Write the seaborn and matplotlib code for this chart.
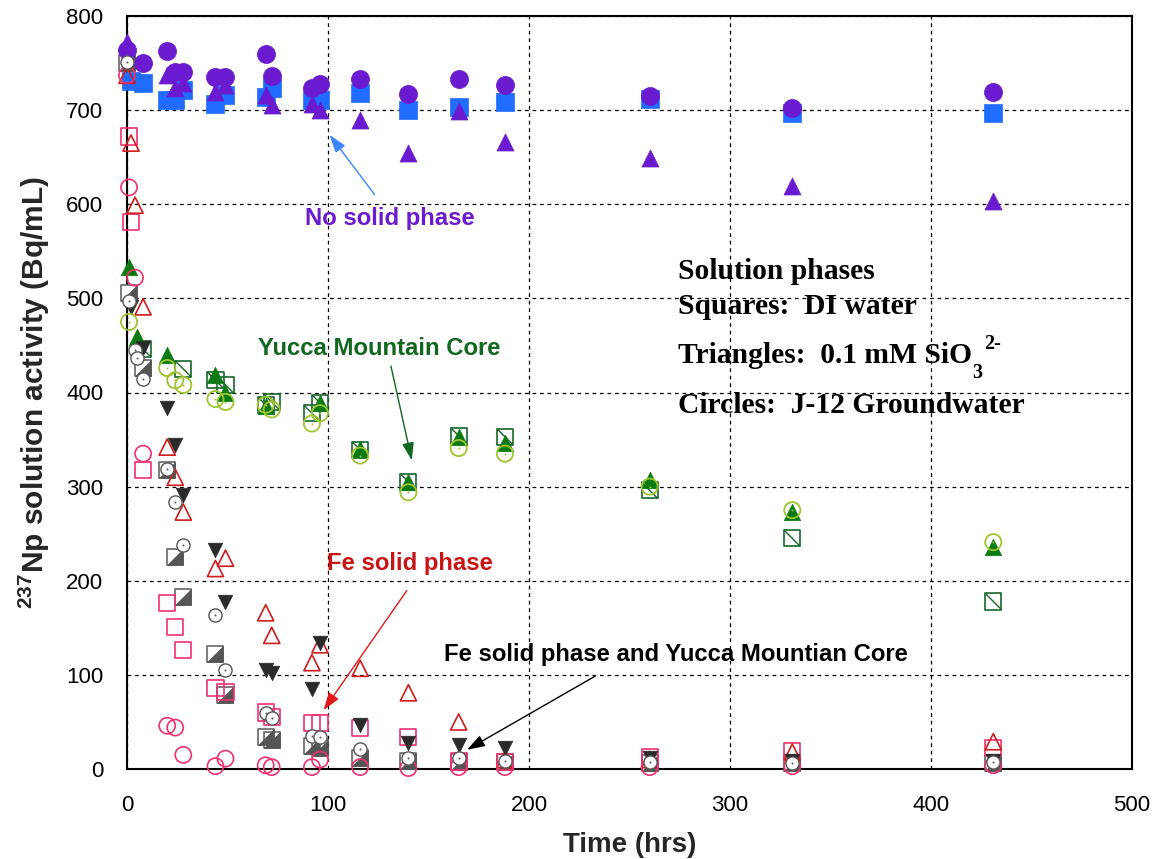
import numpy as np
import matplotlib
matplotlib.use("Agg")
import matplotlib.pyplot as plt
from matplotlib.path import Path
import matplotlib.transforms as mtransforms
import seaborn as sns

# ---------------- data ----------------
# No solid phase
ns_sq_t = [2, 8, 20, 24, 28, 44, 49, 69, 72, 92, 96, 116, 140, 165, 188, 260, 331, 431]
ns_sq_y = [731, 729, 711, 711, 721, 707, 716, 714, 723, 711, 711, 718, 700, 703, 709, 712, 697, 697]
ns_tri_t = [0, 20, 24, 28, 44, 49, 69, 72, 92, 96, 116, 140, 165, 188, 260, 331, 431]
ns_tri_y = [772, 737, 723, 729, 719, 727, 716, 705, 707, 700, 689, 654, 699, 666, 649, 619, 603]
ns_cir_t = [0, 8, 20, 24, 28, 44, 49, 69, 72, 92, 96, 116, 140, 165, 188, 260, 331, 431]
ns_cir_y = [764, 750, 763, 741, 741, 735, 735, 760, 736, 723, 728, 733, 717, 733, 727, 715, 702, 719]

# Yucca Mountain Core
ym_sq_t = [8, 28, 44, 49, 69, 72, 92, 96, 116, 140, 165, 188, 260, 331, 431]
ym_sq_y = [446, 425, 413, 408, 387, 390, 378, 389, 339, 305, 354, 353, 296, 245, 178]
ym_tri_t = [1, 5, 20, 44, 49, 69, 96, 116, 140, 165, 188, 260, 331, 431]
ym_tri_y = [533, 459, 440, 419, 399, 386, 389, 340, 305, 353, 346, 307, 273, 236]
ym_cir_t = [1, 20, 24, 28, 44, 49, 69, 72, 92, 96, 116, 140, 165, 188, 260, 331, 431]
ym_cir_y = [475, 426, 413, 408, 393, 390, 387, 382, 367, 378, 333, 294, 341, 335, 300, 275, 241]

# Fe solid phase
fe_sq_t = [1, 2, 8, 20, 24, 28, 44, 49, 69, 72, 92, 96, 116, 140, 165, 188, 260, 331, 431]
fe_sq_y = [672, 581, 318, 176, 151, 126, 86, 82, 60, 55, 49, 49, 44, 34, 8, 7, 13, 19, 22]
fe_tri_t = [0, 2, 4, 8, 20, 24, 28, 44, 49, 69, 72, 92, 96, 116, 140, 165, 188, 260, 331, 431]
fe_tri_y = [737, 665, 599, 491, 342, 310, 273, 213, 224, 166, 142, 113, 132, 107, 81, 50, 10, 10, 18, 29]
fe_cir_t = [0, 1, 4, 8, 20, 24, 28, 44, 49, 69, 72, 92, 96, 116, 140, 165, 188, 260, 331, 431]
fe_cir_y = [737, 618, 522, 335, 46, 44, 15, 3, 11, 4, 2, 2, 10, 2, 1, 2, 2, 2, 3, 4]

# Fe solid phase and Yucca Mountain Core
fy_sq_t = [0, 1, 8, 20, 24, 28, 44, 49, 69, 72, 92, 96, 116, 140, 165, 188, 260, 331, 431]
fy_sq_y = [750, 506, 426, 318, 225, 183, 122, 79, 34, 31, 24, 22, 12, 8, 7, 7, 6, 6, 6]
fy_tri_t = [2, 8, 20, 24, 28, 44, 49, 69, 72, 92, 96, 116, 140, 165, 188, 260, 331, 431]
fy_tri_y = [491, 447, 384, 344, 291, 233, 177, 105, 102, 85, 134, 47, 28, 26, 22, 12, 8, 8]
fy_cir_t = [0, 1, 4, 5, 8, 20, 24, 28, 44, 49, 69, 72, 92, 96, 116, 140, 165, 188, 260, 331, 431]
fy_cir_y = [751, 497, 445, 437, 414, 319, 284, 238, 164, 105, 59, 54, 35, 34, 21, 12, 12, 8, 7, 6, 7]

x_ticks = [0, 100, 200, 300, 400, 500]
y_ticks = [0, 100, 200, 300, 400, 500, 600, 700, 800]

# ---------------- style ----------------
sns.set_theme(style="white")
plt.rcParams['font.family'] = ['Liberation Sans', 'DejaVu Sans']
plt.rcParams['mathtext.fontset'] = 'custom'
plt.rcParams['mathtext.bf'] = 'Liberation Sans:bold'
plt.rcParams['mathtext.rm'] = 'Liberation Serif:bold'

fig = plt.figure(figsize=(11.56, 8.59), dpi=100)
ax = fig.add_axes([127/1156, 1 - 769/859, (1132 - 127)/1156, (769 - 16)/859])

# custom marker paths
half_tri = Path([(1, 1), (1, -1), (-1, -1), (1, 1)],
                [Path.MOVETO, Path.LINETO, Path.LINETO, Path.CLOSEPOLY])
diag = Path([(-1, 1), (1, -1)], [Path.MOVETO, Path.LINETO])


def sc(t, y, **kw):
    sns.scatterplot(x=t, y=y, ax=ax, legend=False, clip_on=False, **kw)


# colors
BLUE = '#1f6cff'
PURPLE = '#6a1acf'
GREEN = '#0b7a12'
DKGREEN = '#17662a'
YGREEN = '#9ec530'
PINK = '#f0306e'
RED = '#d01c1c'
GRAY = '#666666'
DKGRAY = '#555555'
BLACK = '#2a2a2a'

S = 135

# Fe + Yucca: half-filled squares
sc(fy_sq_t, fy_sq_y, marker='s', s=S, facecolor='white', edgecolor=GRAY, linewidth=1.2, zorder=3)
sc(fy_sq_t, fy_sq_y, marker=half_tri, s=S, color=DKGRAY, edgecolor=DKGRAY, linewidth=0.5, zorder=3)

# Fe squares
sc(fe_sq_t, fe_sq_y, marker='s', s=S, facecolor='none', edgecolor=PINK, linewidth=1.2, zorder=3)
# Yucca squares with diagonal
sc(ym_sq_t, ym_sq_y, marker='s', s=S, facecolor='none', edgecolor=DKGREEN, linewidth=1.2, zorder=3)
sc(ym_sq_t, ym_sq_y, marker=diag, s=S, facecolor='none', edgecolor=DKGREEN, linewidth=1.0, zorder=3)
# No solid squares
sc(ns_sq_t, ns_sq_y, marker='s', s=160, color=BLUE, edgecolor=BLUE, linewidth=0.5, zorder=3)

# triangles
sc(ns_tri_t, ns_tri_y, marker='^', s=150, color=PURPLE, edgecolor=PURPLE, linewidth=0.5, zorder=4)
sc(ym_tri_t, ym_tri_y, marker='^', s=140, color=GREEN, edgecolor=GREEN, linewidth=0.5, zorder=4)
sc(fe_tri_t, fe_tri_y, marker='^', s=S, facecolor='none', edgecolor=RED, linewidth=1.2, zorder=4)
sc(fy_tri_t, fy_tri_y, marker='v', s=110, color=BLACK, edgecolor=BLACK, linewidth=0.5, zorder=4)

# circles
sc(ns_cir_t, ns_cir_y, marker='o', s=170, color=PURPLE, edgecolor=PURPLE, linewidth=0.5, zorder=5)
sc(ym_cir_t, ym_cir_y, marker='o', s=S, facecolor='none', edgecolor=YGREEN, linewidth=1.3, zorder=5)
sc(ym_cir_t, ym_cir_y, marker='o', s=2, color=YGREEN, edgecolor=YGREEN, linewidth=0, zorder=5)
sc(fe_cir_t, fe_cir_y, marker='o', s=S, facecolor='none', edgecolor=PINK, linewidth=1.2, zorder=5)
sc(fy_cir_t, fy_cir_y, marker='o', s=90, facecolor='white', edgecolor=DKGRAY, linewidth=1.0, zorder=5)
sc(fy_cir_t, fy_cir_y, marker='o', s=2, color=DKGRAY, edgecolor=DKGRAY, linewidth=0, zorder=5)

# ---------------- axes ----------------
ax.set_xlim(0, 500)
ax.set_ylim(0, 800)
ax.set_xticks(x_ticks)
ax.set_yticks(y_ticks)
ax.set_xticklabels([str(v) for v in x_ticks], fontsize=16)
ax.set_yticklabels([str(v) for v in y_ticks], fontsize=16)
ax.tick_params(axis='both', length=0, colors='black')
ax.tick_params(axis='y', pad=17)
ax.tick_params(axis='x', pad=19)
ax.grid(True, color='black', linestyle=(0, (3, 3)), linewidth=0.9)
ax.set_axisbelow(True)
for sp in ax.spines.values():
    sp.set_color('black')
    sp.set_linewidth(1.5)
    sp.set_visible(True)

ax.set_xlabel('Time (hrs)', fontsize=20, fontweight='bold', labelpad=11)
ax.set_ylabel(r'$^{\mathbf{237}}$Np solution activity (Bq/mL)', fontsize=21.5,
              fontweight='bold', labelpad=10)

# ---------------- annotations ----------------
ANN = 17.2
ax.text(131, 585, 'No solid phase', color=PURPLE, fontsize=ANN, fontweight='bold',
        ha='center', va='center', zorder=6)
ax.annotate('', xy=(100, 676), xytext=(124, 608),
            arrowprops=dict(arrowstyle='-|>,head_length=0.9,head_width=0.3',
                            color='#3c86ff', lw=1.0), zorder=6)

ax.text(125.5, 447, 'Yucca Mountain Core', color='#11671f', fontsize=ANN,
        fontweight='bold', ha='center', va='center', zorder=6)
ax.annotate('', xy=(142, 325), xytext=(131, 431),
            arrowprops=dict(arrowstyle='-|>,head_length=0.9,head_width=0.3',
                            color='#11671f', lw=1.0), zorder=6)

ax.text(141, 218, 'Fe solid phase', color='#c81414', fontsize=ANN, fontweight='bold',
        ha='center', va='center', zorder=6)
ax.annotate('', xy=(97, 60), xytext=(140, 192),
            arrowprops=dict(arrowstyle='-|>,head_length=0.9,head_width=0.3',
                            color='#e01a1a', lw=1.0), zorder=6)

ax.text(273, 122, 'Fe solid phase and Yucca Mountian Core', color='black', fontsize=ANN,
        fontweight='bold', ha='center', va='center', zorder=6)
ax.annotate('', xy=(168, 19), xytext=(234, 100),
            arrowprops=dict(arrowstyle='-|>,head_length=0.9,head_width=0.3',
                            color='black', lw=1.0), zorder=6)

serif = dict(family=['Liberation Serif', 'DejaVu Serif'], fontsize=21.3,
             fontweight='bold', color='black', ha='left', va='baseline', zorder=6)
ax.text(274, 520.5, 'Solution phases', **serif)
ax.text(274, 483, 'Squares:  DI water', **serif)
tri_txt = ax.text(274, 431, 'Triangles:  0.1 mM SiO', **serif)
ax.text(274, 378, 'Circles:  J-12 Groundwater', **serif)

# subscript / superscript of SiO3 2-
fig.canvas.draw()
bb = tri_txt.get_window_extent(renderer=fig.canvas.get_renderer())
x_end = ax.transData.inverted().transform((bb.x1, bb.y0))[0]
small = dict(family=['Liberation Serif', 'DejaVu Serif'], fontsize=14.5,
             fontweight='bold', color='black', ha='left', va='baseline', zorder=6)
ax.text(x_end, 431, '3', transform=mtransforms.offset_copy(ax.transData, fig, x=0.5, y=-10.5, units='points'), **small)
ax.text(x_end, 431, '2-', transform=mtransforms.offset_copy(ax.transData, fig, x=8.5, y=10.5, units='points'), **small)

fig.savefig('out.png', dpi=100, facecolor='white')
